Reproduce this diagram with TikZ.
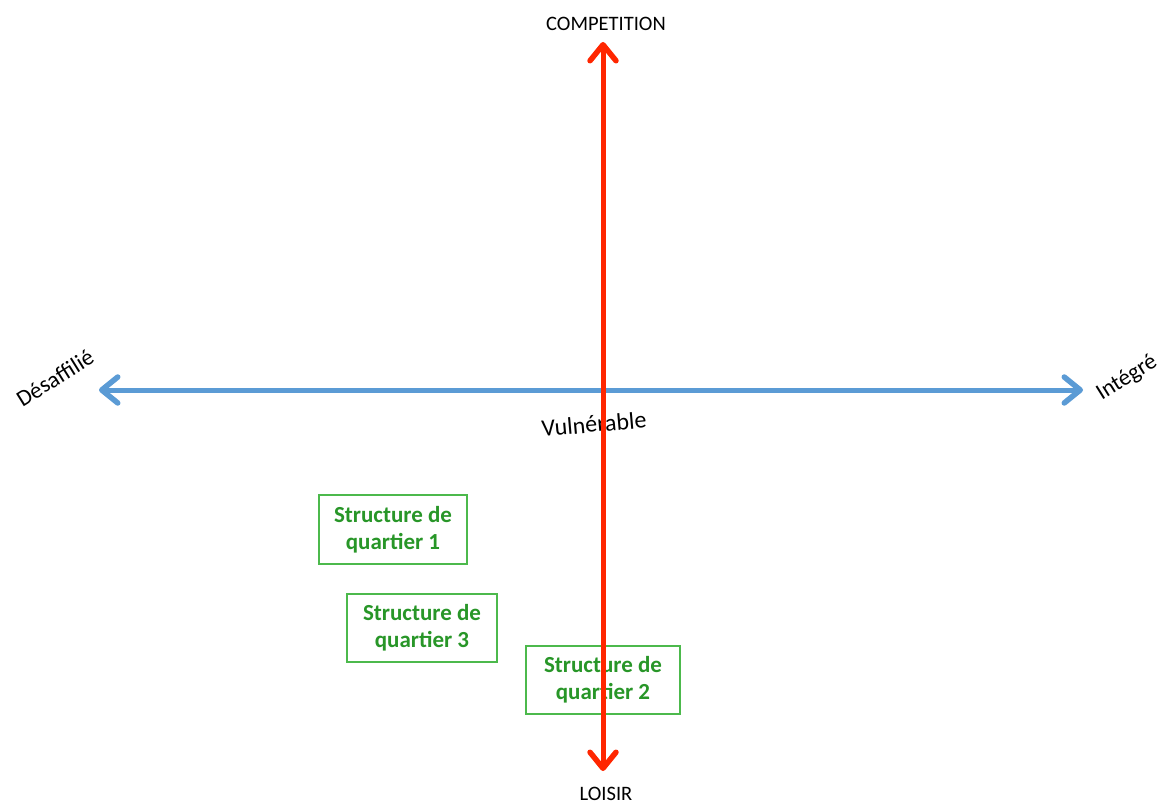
\documentclass[tikz,border=0pt]{standalone}
\usepackage{fontspec}
\setmainfont{Carlito}
\usetikzlibrary{arrows.meta}
\definecolor{axred}{RGB}{255,38,0}
\definecolor{axblue}{RGB}{91,155,213}
\definecolor{boxgreen}{RGB}{76,185,76}
\definecolor{txtgreen}{RGB}{40,150,40}
\tikzset{
  axtip/.tip={Straight Barb[length=16pt,width=26pt,line width=5.5pt,round]},
  axis/.style={line width=5pt, axtip-axtip},
  lbl/.style={font=\fontsize{23}{25}\selectfont, text=black, inner sep=0pt},
  qbox/.style={draw=boxgreen, line width=1.8pt, fill=white, text=txtgreen, font=\fontsize{23}{27}\selectfont\bfseries, align=center, minimum width=148pt, minimum height=69pt, inner sep=0pt}
}
\begin{document}
\begin{tikzpicture}[x=1pt,y=-1pt]
\useasboundingbox (0,0) rectangle (1165,805);
% horizontal axis
\coordinate (hl) at (99,390);
\coordinate (hr) at (1083,390);
\draw[axis, axblue] (hl) -- (hr);
% boxes
\node[qbox] (q1) at (393,529.5) {Structure de\\quartier 1};
\node[qbox, minimum width=150pt, minimum height=68pt] (q3) at (422,628) {Structure de\\quartier 3};
\node[qbox, minimum width=154pt, minimum height=68pt] (q2) at (603,680) {Structure de\\quartier 2};
% labels
\node[lbl, rotate=5, font=\fontsize{24}{26}\selectfont] (vul) at (594,424) {Vulnérable};
\node[lbl, font=\fontsize{20.5}{22}\selectfont] (comp) at (606,24) {COMPETITION};
\node[lbl, font=\fontsize{20.5}{22}\selectfont] (lois) at (606,794) {LOISIR};
\node[lbl, rotate=32] (des) at (55,378) {Désaffilié};
\node[lbl, rotate=32] (int) at (1127,378) {Intégré};
% vertical axis
\coordinate (vt) at (603,42);
\coordinate (vb) at (603,771);
\draw[axis, axred] (vb) -- (vt);
\end{tikzpicture}
\end{document}
